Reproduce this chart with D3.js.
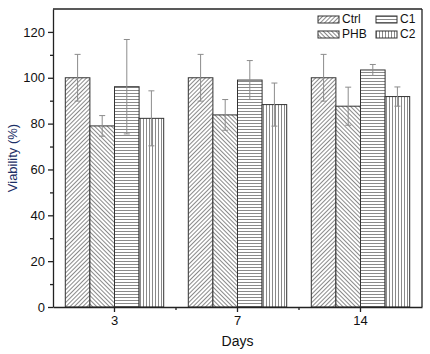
<!DOCTYPE html>
<html>
<head>
<meta charset="utf-8">
<script src="https://cdn.jsdelivr.net/npm/d3@7"></script>
<style>
  body { margin: 0; background: #fff; }
  svg { font-family: "Liberation Sans", Arial, sans-serif; }
</style>
</head>
<body>
<div id="chart"></div>
<script>
// data
var days = ["3", "7", "14"];
var groups = ["Ctrl", "PHB", "C1", "C2"];
var ctrl = [100, 100, 100], ctrlErr = [10.2, 10.2, 10.2];
var phb = [79.0, 83.8, 87.6], phbErr = [4.5, 6.7, 8.3];
var c1 = [96.1, 99.0, 103.4], c1Err = [20.6, 8.5, 2.4];
var c2 = [82.3, 88.3, 91.8], c2Err = [12.0, 9.4, 4.2];
var yTicks = [0, 20, 40, 60, 80, 100, 120];

var vals = {Ctrl: ctrl, PHB: phb, C1: c1, C2: c2};
var errs = {Ctrl: ctrlErr, PHB: phbErr, C1: c1Err, C2: c2Err};
var rows = [];
days.forEach(function(d, i) {
  groups.forEach(function(g) {
    rows.push({day: d, grp: g, v: vals[g][i], e: errs[g][i]});
  });
});

var W = 430, H = 354;
var margin = {top: 9, right: 8, bottom: 47, left: 53},
    width = W - margin.left - margin.right,
    height = H - margin.top - margin.bottom;

var svg = d3.select("#chart").append("svg")
    .attr("width", W).attr("height", H);

// hatch patterns
var defs = svg.append("defs");
function hatch(id, rot) {
  var p = defs.append("pattern")
    .attr("id", id)
    .attr("patternUnits", "userSpaceOnUse")
    .attr("width", 3).attr("height", 3)
    .attr("patternTransform", "rotate(" + rot + ")");
  p.append("rect").attr("width", 3).attr("height", 3).attr("fill", "#fff");
  p.append("line")
    .attr("x1", 0.5).attr("x2", 0.5).attr("y1", 0).attr("y2", 3)
    .attr("stroke", "#8a8a8a").attr("stroke-width", 1);
}
hatch("pCtrl", 45);
hatch("pPHB", -45);
hatch("pC1", 90);
hatch("pC2", 0);

var g = svg.append("g")
    .attr("transform", "translate(" + margin.left + "," + margin.top + ")");

var x0 = d3.scaleBand().domain(days).range([0, width])
    .paddingInner(0.2).paddingOuter(0.1);
var x1 = d3.scaleBand().domain(groups).range([0, x0.bandwidth()]);
var y = d3.scaleLinear().domain([0, 130]).range([height, 0]);

// bars
g.append("g").selectAll("rect")
  .data(rows)
  .enter()
  .append("rect")
    .attr("x", function(d) { return x0(d.day) + x1(d.grp); })
    .attr("y", function(d) { return y(d.v); })
    .attr("width", x1.bandwidth())
    .attr("height", function(d) { return y(0) - y(d.v); })
    .attr("fill", function(d) { return "url(#p" + d.grp + ")"; })
    .attr("stroke", "#333")
    .attr("stroke-width", 1);

// error bars
var eb = g.append("g").attr("stroke", "#8c8c8c").attr("stroke-width", 1);
eb.selectAll("line.v")
  .data(rows).enter().append("line")
    .attr("x1", function(d) { return x0(d.day) + x1(d.grp) + x1.bandwidth() / 2; })
    .attr("x2", function(d) { return x0(d.day) + x1(d.grp) + x1.bandwidth() / 2; })
    .attr("y1", function(d) { return y(d.v + d.e); })
    .attr("y2", function(d) { return y(d.v - d.e); });
[1, -1].forEach(function(s) {
  eb.append("g").selectAll("line")
    .data(rows).enter().append("line")
      .attr("x1", function(d) { return x0(d.day) + x1(d.grp) + x1.bandwidth() / 2 - 3; })
      .attr("x2", function(d) { return x0(d.day) + x1(d.grp) + x1.bandwidth() / 2 + 3; })
      .attr("y1", function(d) { return y(d.v + s * d.e); })
      .attr("y2", function(d) { return y(d.v + s * d.e); });
});

// frame top/right
g.append("line").attr("x1", 0).attr("x2", width).attr("y1", 0).attr("y2", 0)
  .attr("stroke", "#222").attr("stroke-width", 1.3);
g.append("line").attr("x1", width).attr("x2", width).attr("y1", 0).attr("y2", height)
  .attr("stroke", "#222").attr("stroke-width", 1.3);

// y axis
var yAxis = g.append("g")
  .call(d3.axisLeft(y).tickValues(yTicks).tickSize(5).tickSizeOuter(0).tickPadding(3));
g.append("g")
  .call(d3.axisLeft(y).tickValues([10, 30, 50, 70, 90, 110]).tickSize(3).tickFormat(""))
  .select(".domain").remove();

// x axis
var xAxis = g.append("g")
  .attr("transform", "translate(0," + height + ")")
  .call(d3.axisBottom(x0).tickSize(5).tickSizeOuter(0).tickPadding(4));
var mids = [0.5 * (x0("3") + x0("7") + x0.bandwidth()), 0.5 * (x0("7") + x0("14") + x0.bandwidth())];
g.append("g").selectAll("line")
  .data(mids).enter().append("line")
    .attr("x1", function(d) { return d; }).attr("x2", function(d) { return d; })
    .attr("y1", height).attr("y2", height + 3)
    .attr("stroke", "#222").attr("stroke-width", 1.3);

svg.selectAll(".tick text").attr("font-size", 13).attr("fill", "#111")
  .attr("font-family", "'Liberation Sans', Arial, sans-serif");
svg.selectAll(".domain, .tick line").attr("stroke", "#222").attr("stroke-width", 1.3);

// axis titles
svg.append("text")
  .attr("x", margin.left + width / 2)
  .attr("y", 346)
  .attr("text-anchor", "middle")
  .attr("font-size", 14)
  .attr("fill", "#111")
  .text("Days");
svg.append("text")
  .attr("transform", "translate(17," + (margin.top + height / 2) + ") rotate(-90)")
  .attr("text-anchor", "middle")
  .attr("font-size", 13)
  .attr("fill", "#1d2f66")
  .text("Viability (%)");

// legend
var legPos = [[318, 16], [318, 31], [376, 16], [376, 31]];
var leg = svg.append("g").selectAll("g")
  .data(groups).enter().append("g")
    .attr("transform", function(d, i) { return "translate(" + legPos[i][0] + "," + legPos[i][1] + ")"; });
leg.append("rect")
  .attr("width", 21).attr("height", 7)
  .attr("fill", function(d) { return "url(#p" + d + ")"; })
  .attr("stroke", "#333").attr("stroke-width", 1);
leg.append("text")
  .attr("x", 24).attr("y", 7)
  .attr("font-size", 12)
  .attr("fill", "#111")
  .text(function(d) { return d; });
</script>
</body>
</html>
